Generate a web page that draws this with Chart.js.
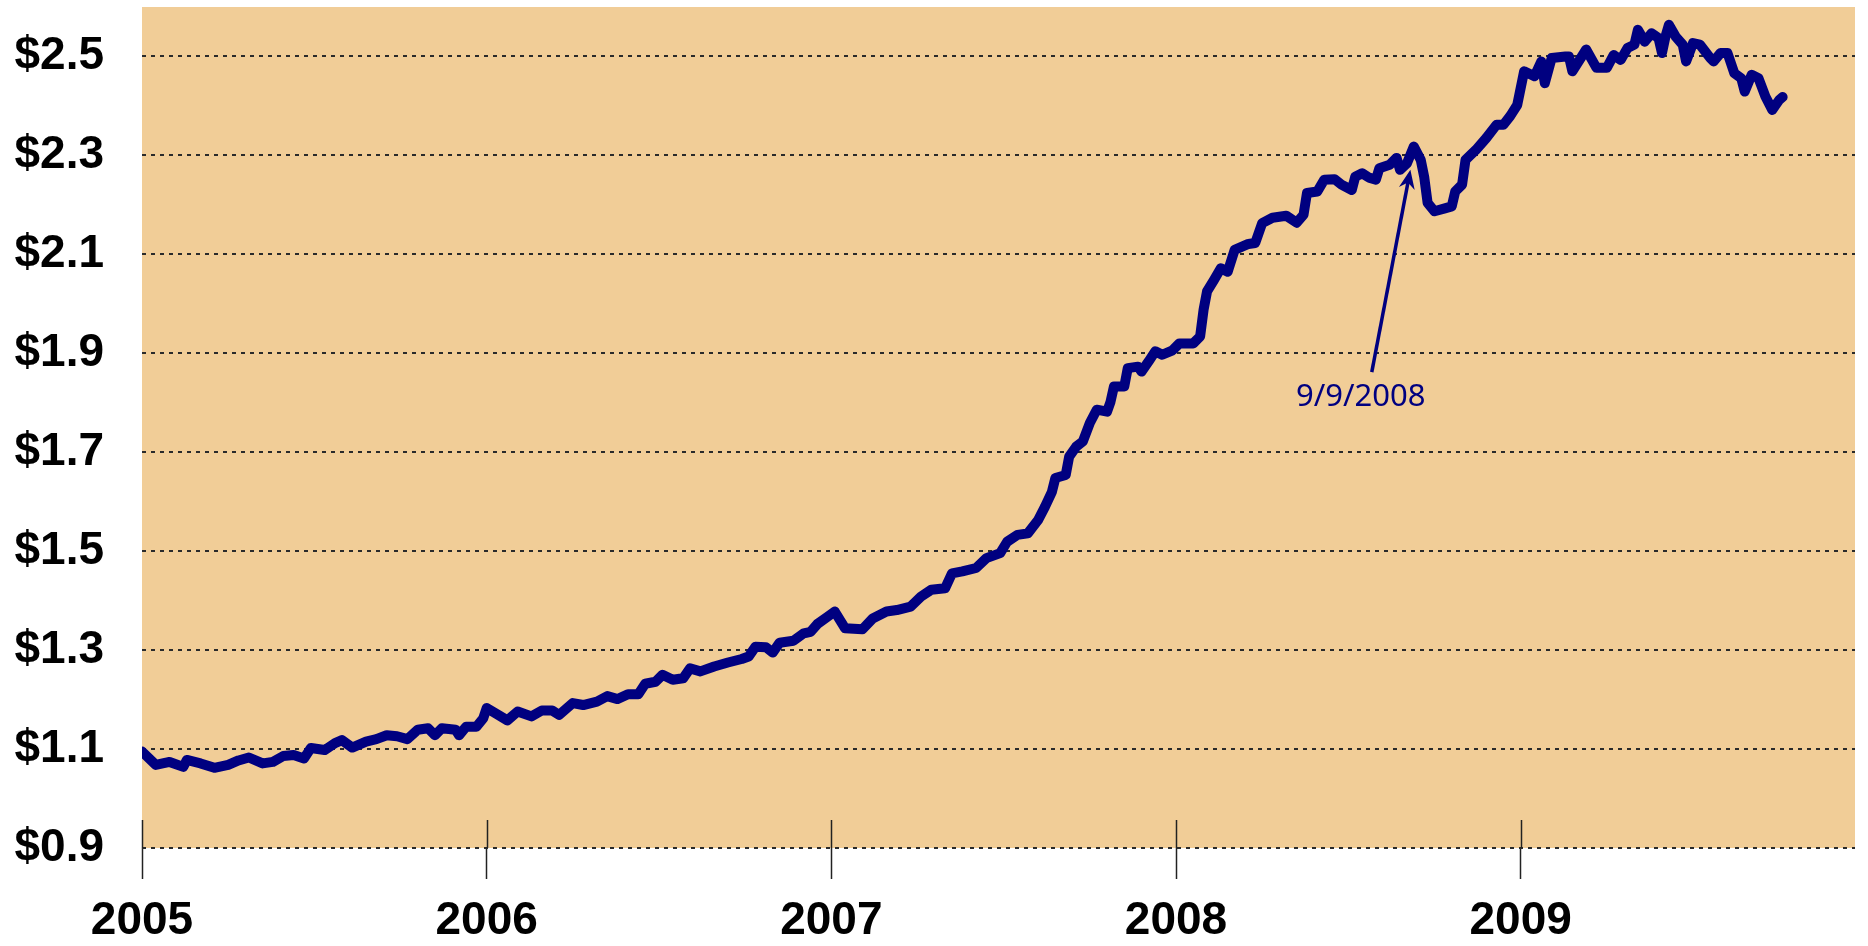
<!DOCTYPE html>
<html>
<head>
<meta charset="utf-8">
<title>Price chart 2005-2009</title>
<script src="https://cdn.jsdelivr.net/npm/chart.js@4.4.0/dist/chart.umd.min.js"></script>
<style>
  html, body { margin: 0; padding: 0; background: #fff; }
  #wrap { width: 1868px; height: 946px; position: relative; }
</style>
</head>
<body>
<div id="wrap"><canvas id="grafik"></canvas></div>
<script>
// time as decimal years
const years = [
  2005.00, 2005.04, 2005.08, 2005.12, 2005.13, 2005.17, 2005.21, 2005.25, 2005.28, 2005.31,
  2005.35, 2005.38, 2005.41, 2005.44, 2005.47, 2005.49, 2005.53, 2005.56, 2005.58, 2005.61,
  2005.65, 2005.68, 2005.71, 2005.74, 2005.77, 2005.80, 2005.83, 2005.85, 2005.87, 2005.91,
  2005.92, 2005.94, 2005.97, 2005.99, 2006.00, 2006.06, 2006.09, 2006.13, 2006.16, 2006.19,
  2006.21, 2006.25, 2006.28, 2006.32, 2006.35, 2006.38, 2006.41, 2006.44, 2006.46, 2006.49,
  2006.51, 2006.54, 2006.57, 2006.59, 2006.62, 2006.66, 2006.70, 2006.74, 2006.76, 2006.78,
  2006.81, 2006.83, 2006.85, 2006.89, 2006.92, 2006.94, 2006.96, 2006.99, 2007.01, 2007.04,
  2007.09, 2007.12, 2007.16, 2007.19, 2007.23, 2007.26, 2007.29, 2007.33, 2007.35, 2007.38,
  2007.42, 2007.45, 2007.49, 2007.51, 2007.54, 2007.57, 2007.60, 2007.62, 2007.64, 2007.65,
  2007.68, 2007.69, 2007.71, 2007.73, 2007.75, 2007.77, 2007.80, 2007.81, 2007.82, 2007.85,
  2007.86, 2007.89, 2007.90, 2007.92, 2007.94, 2007.96, 2007.99, 2008.01, 2008.05, 2008.07,
  2008.08, 2008.09, 2008.11, 2008.13, 2008.15, 2008.17, 2008.21, 2008.23, 2008.25, 2008.28,
  2008.32, 2008.35, 2008.37, 2008.38, 2008.41, 2008.43, 2008.46, 2008.48, 2008.51, 2008.52,
  2008.54, 2008.56, 2008.58, 2008.59, 2008.62, 2008.64, 2008.65, 2008.67, 2008.69, 2008.71,
  2008.72, 2008.73, 2008.75, 2008.78, 2008.80, 2008.81, 2008.83, 2008.84, 2008.87, 2008.90,
  2008.93, 2008.95, 2008.97, 2008.99, 2009.01, 2009.04, 2009.06, 2009.07, 2009.09, 2009.13,
  2009.14, 2009.15, 2009.19, 2009.22, 2009.25, 2009.27, 2009.29, 2009.31, 2009.33, 2009.34,
  2009.36, 2009.38, 2009.40, 2009.41, 2009.42, 2009.43, 2009.45, 2009.47, 2009.48, 2009.50,
  2009.52, 2009.55, 2009.56, 2009.58, 2009.60, 2009.62, 2009.64, 2009.65, 2009.67, 2009.69,
  2009.71, 2009.73, 2009.75, 2009.76
];

const prices = [
  1.095, 1.068, 1.074, 1.064, 1.078, 1.071, 1.062, 1.068, 1.077, 1.083,
  1.071, 1.074, 1.086, 1.088, 1.081, 1.102, 1.098, 1.112, 1.118, 1.103,
  1.115, 1.120, 1.128, 1.126, 1.120, 1.139, 1.142, 1.128, 1.142, 1.139,
  1.128, 1.145, 1.145, 1.162, 1.183, 1.158, 1.176, 1.166, 1.178, 1.178,
  1.169, 1.193, 1.189, 1.196, 1.207, 1.201, 1.211, 1.211, 1.232, 1.236,
  1.250, 1.240, 1.243, 1.263, 1.257, 1.267, 1.275, 1.282, 1.287, 1.307,
  1.306, 1.295, 1.315, 1.319, 1.334, 1.337, 1.353, 1.368, 1.378, 1.344,
  1.342, 1.364, 1.378, 1.381, 1.388, 1.408, 1.422, 1.425, 1.455, 1.459,
  1.466, 1.486, 1.496, 1.519, 1.533, 1.536, 1.563, 1.590, 1.620, 1.648,
  1.654, 1.691, 1.711, 1.722, 1.759, 1.786, 1.782, 1.802, 1.833, 1.833,
  1.870, 1.873, 1.863, 1.883, 1.904, 1.897, 1.906, 1.920, 1.920, 1.934,
  1.988, 2.025, 2.048, 2.072, 2.065, 2.109, 2.121, 2.123, 2.163, 2.174,
  2.178, 2.164, 2.180, 2.224, 2.227, 2.251, 2.252, 2.241, 2.230, 2.257,
  2.264, 2.255, 2.251, 2.274, 2.281, 2.295, 2.271, 2.284, 2.318, 2.291,
  2.257, 2.204, 2.187, 2.193, 2.197, 2.227, 2.241, 2.291, 2.311, 2.335,
  2.362, 2.362, 2.380, 2.402, 2.470, 2.460, 2.490, 2.446, 2.497, 2.500,
  2.500, 2.470, 2.514, 2.477, 2.477, 2.503, 2.493, 2.517, 2.524, 2.554,
  2.530, 2.547, 2.537, 2.507, 2.540, 2.564, 2.540, 2.524, 2.490, 2.527,
  2.524, 2.497, 2.490, 2.507, 2.507, 2.466, 2.456, 2.429, 2.463, 2.456,
  2.419, 2.392, 2.412, 2.418
];

const xTicks = [2005, 2006, 2007, 2008, 2009];
const yTicks = [0.9, 1.1, 1.3, 1.5, 1.7, 1.9, 2.1, 2.3, 2.5];

// callout: label and arrow pointing at the 9/9/2008 spike
const noteText = '9/9/2008';
const notePos = [2008.536, 1.812];
const arrowTail = [2008.568, 1.862];
const arrowTip = [2008.68, 2.271];

const navy = '#000080';
const axisFont = "'Liberation Sans Narrow', 'Arial Narrow', 'Liberation Sans', sans-serif";

// tan fill behind the plot
const plotBg = {
  id: 'plotBg',
  beforeDraw(chart) {
    const { ctx, chartArea: a } = chart;
    ctx.save();
    ctx.fillStyle = '#F1CD97';
    ctx.fillRect(a.left, a.top, a.right - a.left, a.bottom - a.top);
    ctx.restore();
  }
};

// year ticks poke up into the plot a bit
const innerTicks = {
  id: 'innerTicks',
  beforeDatasetsDraw(chart) {
    const { ctx, chartArea: a, scales: { x } } = chart;
    ctx.save();
    ctx.strokeStyle = '#222';
    ctx.lineWidth = 1.5;
    xTicks.forEach(v => {
      const px = Math.round(x.getPixelForValue(v)) + 0.5;
      ctx.beginPath();
      ctx.moveTo(px, a.bottom - 28);
      ctx.lineTo(px, a.bottom);
      ctx.stroke();
    });
    ctx.restore();
  }
};

const callout = {
  id: 'callout',
  afterDatasetsDraw(chart) {
    const { ctx, scales: { x, y } } = chart;
    const x0 = x.getPixelForValue(arrowTail[0]), y0 = y.getPixelForValue(arrowTail[1]);
    const x1 = x.getPixelForValue(arrowTip[0]), y1 = y.getPixelForValue(arrowTip[1]);
    const ang = Math.atan2(y1 - y0, x1 - x0);
    const headLen = 19, headW = 8;
    const bx = x1 - Math.cos(ang) * headLen, by = y1 - Math.sin(ang) * headLen;
    const nx = -Math.sin(ang), ny = Math.cos(ang);

    ctx.save();
    ctx.strokeStyle = navy;
    ctx.fillStyle = navy;
    ctx.lineWidth = 3.5;
    ctx.beginPath();
    ctx.moveTo(x0, y0);
    ctx.lineTo(x1 - Math.cos(ang) * 10, y1 - Math.sin(ang) * 10);
    ctx.stroke();

    ctx.beginPath();
    ctx.moveTo(x1, y1);
    ctx.lineTo(bx + nx * headW, by + ny * headW);
    ctx.lineTo(x1 - Math.cos(ang) * 13, y1 - Math.sin(ang) * 13);
    ctx.lineTo(bx - nx * headW, by - ny * headW);
    ctx.closePath();
    ctx.fill();

    ctx.font = "31px 'Noto Sans', sans-serif";
    ctx.textAlign = 'center';
    ctx.textBaseline = 'middle';
    ctx.fillText(noteText, x.getPixelForValue(notePos[0]), y.getPixelForValue(notePos[1]));
    ctx.restore();
  }
};

const ctx = document.getElementById('grafik').getContext('2d');
new Chart(ctx, {
  type: 'line',
  data: {
    datasets: [{
      data: years.map((t, i) => ({ x: t, y: prices[i] })),
      borderColor: navy,
      borderWidth: 10,
      pointRadius: 0,
      tension: 0,
      borderJoinStyle: 'round',
      borderCapStyle: 'round',
      fill: false
    }]
  },
  options: {
    responsive: true,
    maintainAspectRatio: false,
    animation: false,
    layout: { padding: { top: 7, right: 13, left: 0, bottom: 0 } },
    plugins: {
      legend: { display: false },
      tooltip: { enabled: false }
    },
    scales: {
      x: {
        type: 'linear',
        min: 2005,
        max: 2009.97,
        afterBuildTicks: s => { s.ticks = xTicks.map(v => ({ value: v })); },
        afterFit: s => { s.height = 98; s.paddingLeft = 0; s.paddingRight = 0; },
        grid: { drawOnChartArea: false, drawTicks: true, tickLength: 31, tickColor: '#222', tickWidth: 1.5 },
        border: { display: false },
        ticks: {
          padding: 15,
          maxRotation: 0,
          autoSkip: false,
          color: '#000',
          font: { family: axisFont, size: 46, weight: 'bold' },
          callback: v => String(v)
        }
      },
      y: {
        min: 0.9,
        max: 2.6,
        afterBuildTicks: s => { s.ticks = yTicks.map(v => ({ value: v })); },
        afterFit: s => { s.width = 142; s.paddingTop = 0; s.paddingBottom = 0; },
        grid: { color: '#2a2a2a', lineWidth: 2, drawTicks: false },
        border: { display: false, dash: [4, 5] },
        ticks: {
          padding: 38,
          color: '#000',
          font: { family: axisFont, size: 46, weight: 'bold' },
          callback: v => '$' + v.toFixed(1)
        }
      }
    }
  },
  plugins: [plotBg, innerTicks, callout]
});
</script>
</body>
</html>
